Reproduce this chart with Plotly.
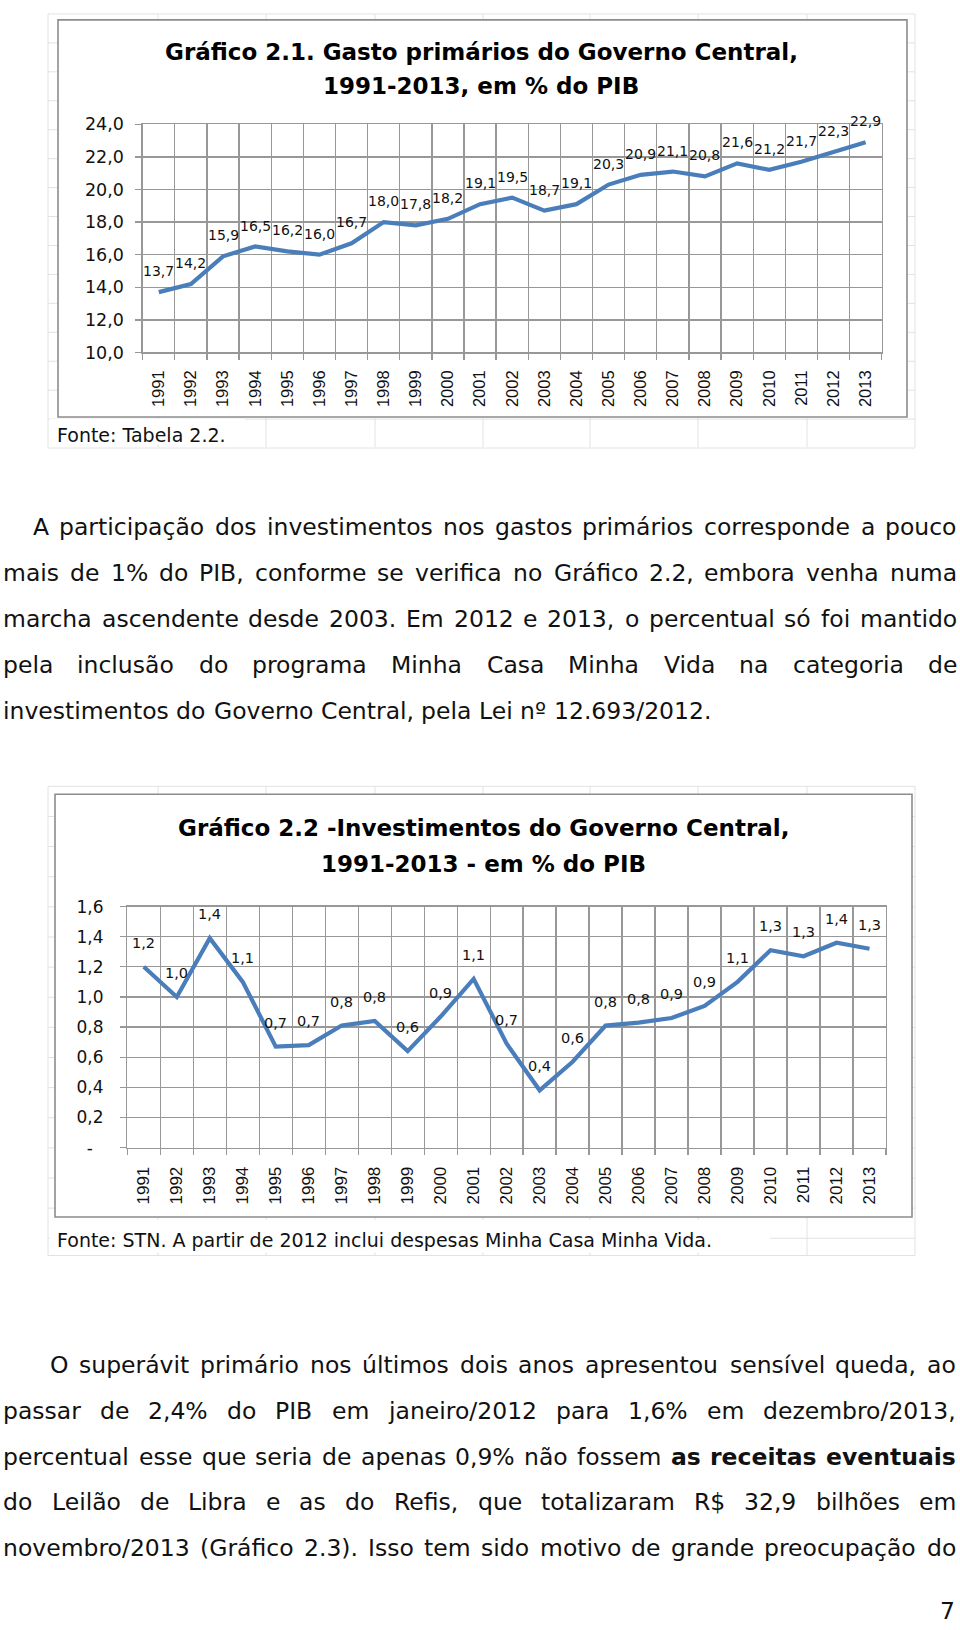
import plotly.graph_objects as go

# ---------------- data ----------------
years = list(range(1991, 2014))
gasto_primario = [13.7, 14.2, 15.9, 16.5, 16.2, 16.0, 16.7, 18.0, 17.8, 18.2, 19.1, 19.5,
                  18.7, 19.1, 20.3, 20.9, 21.1, 20.8, 21.6, 21.2, 21.7, 22.3, 22.9]
investimentos = [1.20, 1.00, 1.39, 1.10, 0.67, 0.68, 0.81, 0.84, 0.64, 0.87, 1.12, 0.69,
                 0.38, 0.57, 0.81, 0.83, 0.86, 0.94, 1.10, 1.31, 1.27, 1.36, 1.32]
year_labels = [str(y) for y in years]
y1_ticks = [10, 12, 14, 16, 18, 20, 22, 24]
y2_ticks = [0, 0.2, 0.4, 0.6, 0.8, 1.0, 1.2, 1.4, 1.6]
y2_ticktext = ["-\u00a0\u00a0", "0,2", "0,4", "0,6", "0,8", "1,0", "1,2", "1,4", "1,6"]

title1 = ["Gráfico 2.1. Gasto primários do Governo Central,", "1991-2013, em % do PIB"]
title2 = ["Gráfico 2.2 -Investimentos do Governo Central,", "1991-2013 - em % do PIB"]
fonte1 = "Fonte: Tabela 2.2."
fonte2 = "Fonte: STN. A partir de 2012 inclui despesas Minha Casa Minha Vida."

para1 = [
    "A participação dos investimentos nos gastos primários corresponde a pouco",
    "mais de 1% do PIB, conforme se verifica no Gráfico 2.2, embora venha numa",
    "marcha ascendente desde 2003. Em 2012 e 2013, o percentual só foi mantido",
    "pela inclusão do programa Minha Casa Minha Vida na categoria de",
    "investimentos do Governo Central, pela Lei nº 12.693/2012.",
]
para2 = [
    "O superávit primário nos últimos dois anos apresentou sensível queda, ao",
    "passar de 2,4% do PIB em janeiro/2012 para 1,6% em dezembro/2013,",
    "percentual esse que seria de apenas 0,9% não fossem as receitas eventuais",
    "do Leilão de Libra e as do Refis, que totalizaram R$ 32,9 bilhões em",
    "novembro/2013 (Gráfico 2.3). Isso tem sido motivo de grande preocupação do",
]
bold_words = {(2, 9), (2, 10), (2, 11)}  # para2 line 3: "as receitas eventuais"

# ---------------- helpers ----------------
W, H = 960, 1630


def fx(p):
    return p / W


def fy(p):
    return 1 - p / H


def fmt(v):
    return f"{v:.1f}".replace(".", ",")


REG = dict(space=318, a=613, b=635, c=550, d=635, e=615, f=352, g=635, h=634, i=278, j=278,
           k=579, l=278, m=974, n=634, o=612, p=635, q=635, r=411, s=521, t=392, u=634,
           v=592, w=818, x=592, y=592, z=525, A=684, B=686, C=698, D=770, E=632, F=575,
           G=775, H=752, I=295, L=557, M=863, N=748, O=787, P=603, R=695, S=635, T=611,
           V=684)
BOLD = dict(space=348, a=675, s=595, r=493, e=678, c=593, i=343, t=478, v=652, n=712,
            u=712, l=343)
ACC = str.maketrans("áãâàéêíóõôúç", "aaaaeeiooouc")


def cw(ch, bold=False):
    ch = ch.translate(ACC)
    if ch.isdigit():
        return 696 if bold else 636
    table = {",": 318, ".": 318, "%": 950, "/": 337, "(": 390, ")": 390, "$": 636,
             "º": 471, "-": 361, ":": 337}
    if ch in table:
        return table[ch]
    if bold and ch in BOLD:
        return BOLD[ch]
    return REG.get(ch, 600) * (1.1 if bold else 1.0)


def tw(s, size, bold=False):
    return sum(cw(c, bold) for c in s) * size / 1000.0


annotations = []


def text_line(line, yc, left, right, size, justified, para_idx=None, line_idx=None):
    words = line.split()
    bolds = [((line_idx, k) in bold_words) if para_idx == 2 else False for k in range(len(words))]
    widths = [tw(w_, size, b) for w_, b in zip(words, bolds)]
    if justified and len(words) > 1:
        gap = (right - left - sum(widths)) / (len(words) - 1)
    else:
        gap = REG["space"] * size / 1000.0
    x = left
    for w_, wd, b in zip(words, widths, bolds):
        annotations.append(dict(
            x=fx(x + wd / 2), y=fy(yc), xref="paper", yref="paper", text=w_,
            showarrow=False, xanchor="center", yanchor="middle",
            font=dict(family="DejaVu Sans", size=size, color="#111111",
                      weight="bold" if b else "normal")))
        x += wd + gap


# ---------------- figure ----------------
fig = go.Figure()
fig.add_trace(go.Scatter(x=years, y=gasto_primario, mode="lines", xaxis="x", yaxis="y",
                         line=dict(color="#4A7EBB", width=4.2), hoverinfo="skip"))
fig.add_trace(go.Scatter(x=years, y=investimentos, mode="lines", xaxis="x2", yaxis="y2",
                         line=dict(color="#4A7EBB", width=4.2), hoverinfo="skip"))

for yr, v in zip(years, gasto_primario):
    annotations.append(dict(x=yr, y=v, xref="x", yref="y", text=fmt(v), showarrow=False,
                            yshift=21, font=dict(family="DejaVu Sans", size=14, color="#111")))
for yr, v in zip(years, investimentos):
    annotations.append(dict(x=yr, y=v, xref="x2", yref="y2", text=fmt(v), showarrow=False,
                            yshift=24, font=dict(family="DejaVu Sans", size=14.5, color="#111")))

# titles
for txt, yc in zip(title1, [43, 77]):
    annotations.append(dict(x=fx(481), y=fy(yc), xref="paper", yref="paper", text=txt,
                            showarrow=False, xanchor="center", yanchor="middle",
                            font=dict(family="DejaVu Sans", size=23, color="#000", weight="bold")))
for txt, yc in zip(title2, [828, 865]):
    annotations.append(dict(x=fx(483), y=fy(yc), xref="paper", yref="paper", text=txt,
                            showarrow=False, xanchor="center", yanchor="middle",
                            font=dict(family="DejaVu Sans", size=23, color="#000", weight="bold")))
annotations.append(dict(x=fx(55), y=fy(430), xref="paper", yref="paper", text=fonte1,
                        showarrow=False, xanchor="left", yanchor="middle",
                        font=dict(family="DejaVu Sans", size=19, color="#111")))
annotations.append(dict(x=fx(55), y=fy(1245), xref="paper", yref="paper", text=fonte2,
                        showarrow=False, xanchor="left", yanchor="middle",
                        font=dict(family="DejaVu Sans", size=19, color="#111")))

# paragraphs
P = 23.5
for i, (line, yc) in enumerate(zip(para1, [523, 570, 617, 663.5, 710])):
    left = 33 if i == 0 else 3
    text_line(line, yc, left, 957, P, justified=(i < 4), para_idx=1, line_idx=i)
for i, (line, yc) in enumerate(zip(para2, [1372, 1418, 1465, 1511, 1557])):
    left = 50 if i == 0 else 3
    text_line(line, yc, left, 956, P, justified=True, para_idx=2, line_idx=i)
annotations.append(dict(x=fx(957), y=fy(1621), xref="paper", yref="paper", text="7",
                        showarrow=False, xanchor="right", yanchor="middle",
                        font=dict(family="DejaVu Sans", size=P, color="#111")))

# shapes: faint spreadsheet cells + chart frames
shapes = []
faint = dict(color="#E2E2E2", width=1)
vcols = [48, 158, 266, 375, 483, 590, 698, 807, 915]
for xv in vcols:
    shapes.append(dict(type="line", xref="paper", yref="paper", x0=fx(xv), x1=fx(xv),
                       y0=fy(4), y1=fy(443), line=faint, layer="below"))
    shapes.append(dict(type="line", xref="paper", yref="paper", x0=fx(xv), x1=fx(xv),
                       y0=fy(786), y1=fy(1261), line=faint, layer="below"))
k = 0
while 4 + 29.3 * k <= 444:
    yv = 4 + 29.3 * k
    shapes.append(dict(type="line", xref="paper", yref="paper", x0=fx(48), x1=fx(915),
                       y0=fy(yv), y1=fy(yv), line=faint, layer="below"))
    k += 1
k = 0
while 786 + 30.5 * k <= 1262:
    yv = 786 + 30.5 * k
    shapes.append(dict(type="line", xref="paper", yref="paper", x0=fx(48), x1=fx(915),
                       y0=fy(yv), y1=fy(yv), line=faint, layer="below"))
    k += 1
shapes.append(dict(type="line", xref="paper", yref="paper", x0=fx(48), x1=fx(915),
                   y0=fy(1261), y1=fy(1261), line=faint, layer="below"))
shapes.append(dict(type="rect", xref="paper", yref="paper", x0=fx(50), x1=fx(245),
                   y0=fy(440), y1=fy(414), fillcolor="white", line=dict(width=0), layer="below"))
shapes.append(dict(type="rect", xref="paper", yref="paper", x0=fx(50), x1=fx(770),
                   y0=fy(1258), y1=fy(1225), fillcolor="white", line=dict(width=0), layer="below"))
frame = dict(color="#8C8C8C", width=1.6)
shapes.append(dict(type="rect", xref="paper", yref="paper", x0=fx(58), x1=fx(907),
                   y0=fy(412), y1=fy(10), fillcolor="white", line=frame, layer="below"))
shapes.append(dict(type="rect", xref="paper", yref="paper", x0=fx(55), x1=fx(912),
                   y0=fy(1222), y1=fy(794), fillcolor="white", line=frame, layer="below"))

grid = "#989898"
xcommon = dict(type="linear", range=[years[0] - 0.5, years[-1] + 0.5], tickvals=years,
               ticktext=year_labels, ticks="", showgrid=False,
               minor=dict(tick0=years[0] - 0.5, dtick=1, ticks="outside", ticklen=6,
                          tickcolor=grid, tickwidth=1.3, showgrid=True, gridcolor=grid,
                          gridwidth=1.3),
               showline=True, linecolor=grid, linewidth=1.3, mirror=True, tickangle=-90,
               zeroline=False, fixedrange=True)
ycommon = dict(ticks="outside", ticklen=6, tickcolor=grid, tickwidth=1.3, showgrid=True,
               gridcolor=grid, gridwidth=1.3, showline=True, linecolor=grid, linewidth=1.3,
               mirror=True, zeroline=False, fixedrange=True)

fig.update_layout(
    width=W, height=H, margin=dict(l=0, r=0, t=0, b=0),
    paper_bgcolor="white", plot_bgcolor="white", showlegend=False,
    separators=",.",
    xaxis=dict(domain=[fx(142.7), fx(881.7)], anchor="y",
               tickfont=dict(family="Liberation Sans", size=16.5, color="#111"),
               ticklabelstandoff=10, **xcommon),
    yaxis=dict(domain=[fy(346.7), fy(115.7)], anchor="x", range=[10, 24], tickvals=y1_ticks,
               tickformat=".1f", tickfont=dict(family="DejaVu Sans", size=17.5, color="#111"),
               ticklabelstandoff=8, **ycommon),
    xaxis2=dict(domain=[fx(127.3), fx(886)], anchor="y2",
                tickfont=dict(family="Liberation Sans", size=17, color="#111"),
                ticklabelstandoff=11, **xcommon),
    yaxis2=dict(domain=[fy(1151.7), fy(907.7)], anchor="x2", range=[0, 1.6], tickvals=y2_ticks,
                ticktext=y2_ticktext, tickfont=dict(family="DejaVu Sans", size=17, color="#111"),
                ticklabelstandoff=13, **ycommon),
    annotations=annotations, shapes=shapes,
)

fig.write_html(
    "out.html",
    config={"displayModeBar": False, "staticPlot": True},
    post_script=(
        "document.documentElement.style.margin='0';document.documentElement.style.padding='0';"
        "document.body.style.margin='0';document.body.style.padding='0';"
        "document.body.style.overflow='hidden';document.documentElement.style.overflow='hidden';"
        "var d=document.getElementById('{plot_id}');"
        "d.style.position='absolute';d.style.left='0px';d.style.top='0px';"
    ),
)
